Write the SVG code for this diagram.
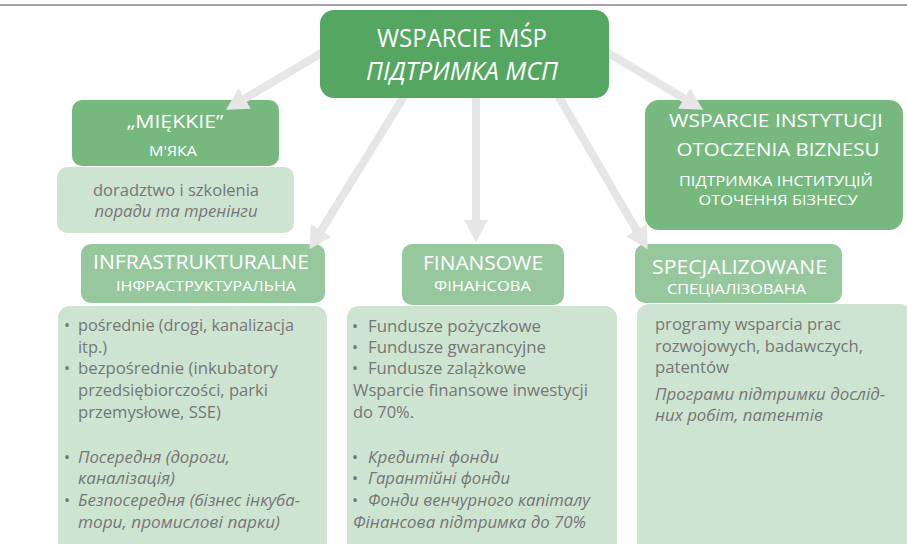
<svg xmlns="http://www.w3.org/2000/svg" width="907" height="544" viewBox="0 0 907 544">
<defs>
<style>
text{font-family:"Open Sans","Noto Sans",sans-serif;}
.w{fill:#ffffff;}
.g{fill:#767676;font-size:16px;}
.i{font-style:italic;}
.mid{text-anchor:middle;}
.top{fill:#55a661;}
.mid2{fill:#76b87e;}
.hdr{fill:#97c89d;}
.cnt{fill:#cde4d0;}
.arr{stroke:#e6e6e6;stroke-width:8;fill:none;}
</style>
<marker id="ah" viewBox="0 0 22 24" refX="1" refY="12" markerWidth="22" markerHeight="24" markerUnits="userSpaceOnUse" orient="auto">
<path d="M0,0 L22,12 L0,24 z" fill="#e6e6e6"/>
</marker>
</defs>
<rect width="907" height="544" fill="#ffffff"/>
<line x1="0" y1="5" x2="907" y2="5" stroke="#a3a3a3" stroke-width="2"/>

<g id="miekkie">
<rect class="mid2" x="72" y="100" width="207" height="66" rx="10"/>
<text class="w mid" x="175" y="128" font-size="19" textLength="97" lengthAdjust="spacingAndGlyphs">„MIĘKKIE”</text>
<text class="w mid" x="173" y="156" font-size="15" textLength="48" lengthAdjust="spacingAndGlyphs">M'ЯКА</text>
</g>
<g id="miekkie-content">
<rect class="cnt" x="57" y="167" width="237" height="66" rx="10"/>
<text class="g mid" x="176" y="196" textLength="166" lengthAdjust="spacingAndGlyphs">doradztwo i szkolenia</text>
<text class="g mid i" x="176" y="217" textLength="163" lengthAdjust="spacingAndGlyphs">поради та тренінги</text>
</g>

<g id="instytucje">
<rect class="mid2" x="645" y="100" width="258" height="130" rx="14"/>
<text class="w mid" x="776" y="127" font-size="18.5" textLength="214" lengthAdjust="spacingAndGlyphs">WSPARCIE INSTYTUCJI</text>
<text class="w mid" x="778" y="156" font-size="18.5" textLength="203" lengthAdjust="spacingAndGlyphs">OTOCZENIA BIZNESU</text>
<text class="w mid" x="776" y="186" font-size="15" textLength="194" lengthAdjust="spacingAndGlyphs">ПІДТРИМКА ІНСТИТУЦІЙ</text>
<text class="w mid" x="778" y="205" font-size="15" textLength="159" lengthAdjust="spacingAndGlyphs">ОТОЧЕННЯ БІЗНЕСУ</text>
</g>

<g id="infra">
<rect class="hdr" x="81" y="244" width="244" height="59" rx="10"/>
<text class="w" x="93" y="269" font-size="19.5" textLength="216" lengthAdjust="spacingAndGlyphs">INFRASTRUKTURALNE</text>
<text class="w" x="116" y="291" font-size="14.5" textLength="180" lengthAdjust="spacingAndGlyphs">ІНФРАСТРУКТУРАЛЬНА</text>
</g>
<g id="infra-content">
<rect class="cnt" x="58" y="306" width="269" height="250" rx="12"/>
<text class="g" x="64" y="331">•</text><text class="g" x="78" y="331" textLength="216" lengthAdjust="spacingAndGlyphs">pośrednie (drogi, kanalizacja</text>
<text class="g" x="78" y="353" textLength="29" lengthAdjust="spacingAndGlyphs">itp.)</text>
<text class="g" x="64" y="374">•</text><text class="g" x="78" y="374" textLength="200" lengthAdjust="spacingAndGlyphs">bezpośrednie (inkubatory</text>
<text class="g" x="78" y="396" textLength="190" lengthAdjust="spacingAndGlyphs">przedsiębiorczości, parki</text>
<text class="g" x="78" y="418" textLength="143" lengthAdjust="spacingAndGlyphs">przemysłowe, SSE)</text>
<text class="g" x="64" y="463">•</text><text class="g i" x="78" y="463" textLength="152" lengthAdjust="spacingAndGlyphs">Посередня (дороги,</text>
<text class="g i" x="78" y="484" textLength="97" lengthAdjust="spacingAndGlyphs">каналізація)</text>
<text class="g" x="64" y="506">•</text><text class="g i" x="78" y="506" textLength="222" lengthAdjust="spacingAndGlyphs">Безпосередня (бізнес інкуба-</text>
<text class="g i" x="78" y="528" textLength="202" lengthAdjust="spacingAndGlyphs">тори, промислові парки)</text>
</g>

<g id="finansowe">
<rect class="hdr" x="402" y="244" width="162" height="61" rx="10"/>
<text class="w" x="423" y="270" font-size="19.5" textLength="120" lengthAdjust="spacingAndGlyphs">FINANSOWE</text>
<text class="w" x="434" y="291" font-size="14.5" textLength="97" lengthAdjust="spacingAndGlyphs">ФІНАНСОВА</text>
</g>
<g id="finansowe-content">
<rect class="cnt" x="347" y="306" width="270" height="250" rx="12"/>
<text class="g" x="352" y="332">•</text><text class="g" x="368" y="332" textLength="173" lengthAdjust="spacingAndGlyphs">Fundusze pożyczkowe</text>
<text class="g" x="352" y="353">•</text><text class="g" x="368" y="353" textLength="178" lengthAdjust="spacingAndGlyphs">Fundusze gwarancyjne</text>
<text class="g" x="352" y="374">•</text><text class="g" x="368" y="374" textLength="158" lengthAdjust="spacingAndGlyphs">Fundusze zalążkowe</text>
<text class="g" x="353" y="396" textLength="235" lengthAdjust="spacingAndGlyphs">Wsparcie finansowe inwestycji</text>
<text class="g" x="353" y="418" textLength="61" lengthAdjust="spacingAndGlyphs">do 70%.</text>
<text class="g" x="352" y="463">•</text><text class="g i" x="368" y="463" textLength="131" lengthAdjust="spacingAndGlyphs">Кредитні фонди</text>
<text class="g" x="352" y="484">•</text><text class="g i" x="368" y="484" textLength="142" lengthAdjust="spacingAndGlyphs">Гарантійні фонди</text>
<text class="g" x="352" y="506">•</text><text class="g i" x="368" y="506" textLength="222" lengthAdjust="spacingAndGlyphs">Фонди венчурного капіталу</text>
<text class="g i" x="353" y="528" textLength="233" lengthAdjust="spacingAndGlyphs">Фінансова підтримка до 70%</text>
</g>

<g id="specjalizowane">
<rect class="hdr" x="635" y="244" width="207" height="59" rx="10"/>
<text class="w" x="652" y="274" font-size="20" textLength="175" lengthAdjust="spacingAndGlyphs">SPECJALIZOWANE</text>
<text class="w" x="667" y="294" font-size="14" textLength="139" lengthAdjust="spacingAndGlyphs">СПЕЦІАЛІЗОВАНА</text>
</g>
<g id="specjalizowane-content">
<rect class="cnt" x="637" y="304" width="275" height="252" rx="12"/>
<text class="g" x="655" y="330" textLength="186" lengthAdjust="spacingAndGlyphs">programy wsparcia prac</text>
<text class="g" x="655" y="352" textLength="208" lengthAdjust="spacingAndGlyphs">rozwojowych, badawczych,</text>
<text class="g" x="655" y="373" textLength="74" lengthAdjust="spacingAndGlyphs">patentów</text>
<text class="g i" x="655" y="400" textLength="230" lengthAdjust="spacingAndGlyphs">Програми підтримки дослід-</text>
<text class="g i" x="655" y="421" textLength="168" lengthAdjust="spacingAndGlyphs">них робіт, патентів</text>
</g>

<g id="connectors">
<line class="arr" x1="330" y1="48" x2="244" y2="99" marker-end="url(#ah)"/>
<line class="arr" x1="408" y1="90" x2="320.6" y2="231.3" marker-end="url(#ah)"/>
<line class="arr" x1="476" y1="90" x2="476" y2="221" marker-end="url(#ah)"/>
<line class="arr" x1="555" y1="90" x2="637" y2="231" marker-end="url(#ah)"/>
<line class="arr" x1="600" y1="48" x2="685" y2="99" marker-end="url(#ah)"/>
</g>

<g id="wsparcie-msp">
<rect class="top" x="320" y="10" width="289" height="88" rx="14"/>
<text class="w mid" x="462" y="47" font-size="25" textLength="170" lengthAdjust="spacingAndGlyphs">WSPARCIE MŚP</text>
<text class="w mid i" x="462" y="80" font-size="25" textLength="192" lengthAdjust="spacingAndGlyphs">ПІДТРИМКА МСП</text>
</g>
</svg>
